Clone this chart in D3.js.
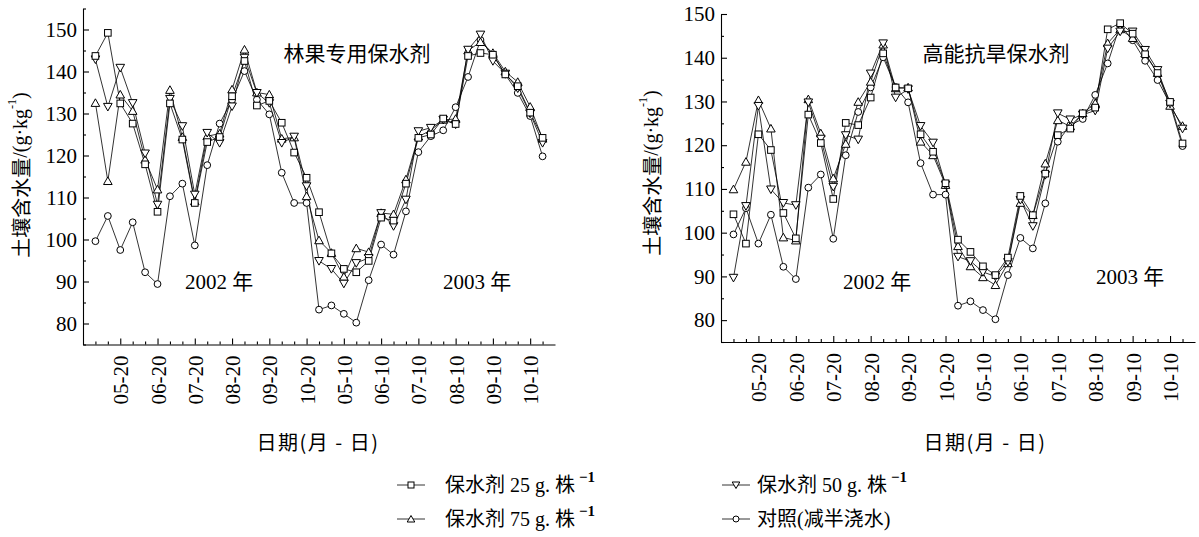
<!DOCTYPE html>
<html>
<head>
<meta charset="utf-8">
<script src="https://cdn.jsdelivr.net/npm/d3@7"></script>
<style>
  body { margin: 0; background: #fff; }
  svg text { fill: #000; }
</style>
</head>
<body>
<svg id="chart" width="1199" height="537"></svg>
<script>
// ---- data: soil water content (g/kg), sampled every 10 days, 2002 and 2003 seasons ----
const sampleIndex = d3.range(37);
const tickIndex = [2, 5, 8, 11, 14, 17, 20, 23, 26, 29, 32, 35];
const tickLabels = ["05-20", "06-20", "07-20", "08-20", "09-20", "10-20",
                    "05-10", "06-10", "07-10", "08-10", "09-10", "10-10"];
const yMajorTicks = [80, 90, 100, 110, 120, 130, 140, 150];

// control (half irrigation), shared by both panels
const control = [99.6, 105.6, 97.5, 104.1, 92.2, 89.4, 110.3, 113.3, 98.6, 117.7, 127.6, 133.2, 140.1,
                 133.3, 129.8, 115.9, 108.7, 108.7, 83.3, 84.3, 82.3, 80.2, 90.3, 98.8, 96.4, 106.7,
                 120.8, 124.6, 126.0, 131.5, 138.7, 147.5, 144.0, 139.3, 134.9, 129.4, 119.8];

// 林果专用保水剂
const forest25 = [143.7, 149.2, 132.4, 127.6, 117.9, 106.6, 132.4, 123.8, 108.7, 123.2, 124.4, 134.1, 142.5,
                  131.9, 133.0, 127.8, 120.7, 114.7, 106.5, 96.7, 93.0, 92.2, 94.9, 105.2, 104.5, 113.3,
                  124.2, 125.0, 128.8, 127.5, 143.7, 144.4, 144.0, 139.3, 136.5, 130.2, 124.2];
const forest50 = [142.9, 131.6, 140.9, 132.5, 120.5, 108.3, 133.5, 127.0, 110.7, 125.4, 123.0, 131.7, 143.3,
                  134.9, 132.5, 123.0, 124.5, 112.7, 94.9, 93.0, 89.5, 94.4, 95.6, 106.3, 103.2, 109.5,
                  125.8, 126.6, 128.5, 127.4, 145.2, 148.8, 142.5, 139.5, 136.0, 130.0, 123.0];
const forest75 = [132.5, 113.9, 134.5, 130.6, 119.0, 111.9, 135.6, 124.4, 109.1, 124.6, 125.2, 135.7, 145.2,
                  135.0, 134.5, 124.0, 124.3, 110.3, 99.8, 96.8, 91.1, 97.9, 97.0, 106.3, 106.0, 114.3,
                  124.5, 126.0, 128.5, 128.7, 145.0, 147.0, 144.4, 140.0, 137.5, 131.6, 124.0];

// 高能抗旱保水剂
const drought25 = [104.2, 97.5, 122.5, 118.9, 104.5, 98.7, 127.0, 120.5, 107.7, 125.1, 124.6, 130.9, 141.0,
                   133.2, 133.0, 122.5, 118.5, 111.3, 98.4, 95.6, 92.3, 90.3, 94.3, 108.4, 104.0, 113.5,
                   122.3, 123.8, 127.3, 128.6, 146.5, 147.9, 145.5, 140.8, 136.5, 129.9, 120.4];
const drought50 = [89.7, 106.1, 129.0, 109.9, 106.8, 106.3, 129.8, 121.5, 110.5, 122.3, 121.3, 136.4, 143.3,
                   130.9, 132.8, 124.4, 120.6, 111.0, 94.5, 93.5, 91.0, 90.0, 93.3, 107.5, 101.5, 113.2,
                   127.3, 125.9, 127.0, 127.9, 142.1, 146.0, 146.0, 141.8, 137.2, 129.5, 123.8];
const drought75 = [109.9, 116.2, 130.3, 123.8, 98.9, 98.2, 130.5, 122.7, 112.4, 120.3, 129.9, 134.5, 143.0,
                   133.0, 133.2, 120.8, 117.7, 110.9, 96.9, 92.3, 89.8, 88.0, 93.0, 106.8, 104.0, 115.8,
                   125.7, 124.3, 127.3, 129.6, 143.3, 146.5, 144.5, 141.0, 136.5, 129.0, 124.4];

const legendLabels = ["保水剂 25 g. 株", "保水剂 50 g. 株", "保水剂 75 g. 株", "对照(减半浇水)"];
const legendSymbols = ["square", "down", "up", "circle"];

// ---- drawing ----
const svg = d3.select("#chart");
const serif = "'Liberation Serif', 'Times New Roman', 'Noto Sans CJK SC', serif";
const cjk = "'Noto Sans CJK SC', 'Liberation Serif', sans-serif";

function drawMarker(g, kind, cx, cy) {
  const common = sel => sel.attr("fill", "#fff").attr("stroke", "#000").attr("stroke-width", 1);
  if (kind === "square") {
    g.append("rect").attr("x", cx - 3.3).attr("y", cy - 3.3).attr("width", 6.6).attr("height", 6.6).call(common);
  } else if (kind === "circle") {
    g.append("circle").attr("cx", cx).attr("cy", cy).attr("r", 3.4).call(common);
  } else if (kind === "up") {
    g.append("path").attr("d", `M${cx},${cy - 4.2}L${cx + 4.3},${cy + 3.4}L${cx - 4.3},${cy + 3.4}Z`).call(common);
  } else {
    g.append("path").attr("d", `M${cx},${cy + 4.2}L${cx + 4.3},${cy - 3.4}L${cx - 4.3},${cy - 3.4}Z`).call(common);
  }
}

function drawPanel(cfg) {
  const g = svg.append("g");
  const x = d3.scaleLinear().domain([-1, 37]).range([cfg.x0, cfg.x1]);
  const y = d3.scaleLinear().domain(cfg.yDomain).range(cfg.yRange);
  const yBase = y(cfg.yDomain[0]);

  // y axis: major ticks with labels, minor ticks at 5
  const yAxis = g.append("g").attr("transform", `translate(${cfg.x0},0)`)
    .call(d3.axisLeft(y).tickValues(yMajorTicks).tickSize(-6).tickSizeOuter(0).tickPadding(6)
      .tickFormat(d3.format("d")));
  yAxis.selectAll("text").attr("font-family", serif).attr("font-size", 21);
  const yMinor = d3.range(cfg.yDomain[0], cfg.yDomain[1] + 0.1, 5).filter(v => v % 10 !== 0);
  g.append("g").attr("transform", `translate(${cfg.x0},0)`)
    .call(d3.axisLeft(y).tickValues(yMinor).tickSize(-3).tickSizeOuter(0).tickFormat(""))
    .select(".domain").remove();

  // x axis: labelled ticks every 30 days, small ticks at every sample
  const xAxis = g.append("g").attr("transform", `translate(0,${yBase})`)
    .call(d3.axisBottom(x).tickValues(tickIndex).tickSize(-6).tickSizeOuter(0)
      .tickFormat((d, i) => tickLabels[i]));
  xAxis.selectAll("text")
    .attr("font-family", serif).attr("font-size", 21)
    .attr("transform", "rotate(-90)")
    .attr("x", -11).attr("y", 0).attr("dy", "0.36em")
    .style("text-anchor", "end");
  g.append("g").attr("transform", `translate(0,${yBase})`)
    .call(d3.axisBottom(x).tickValues(sampleIndex.filter(i => !tickIndex.includes(i))).tickSize(-3)
      .tickSizeOuter(0).tickFormat(""))
    .select(".domain").remove();
  g.selectAll(".domain, .tick line").attr("stroke", "#000").attr("stroke-width", 1.1);

  // series lines
  const line = d3.line().x((d, i) => x(i)).y(d => y(d));
  const series = [
    { values: control, kind: "circle" },
    { values: cfg.s75, kind: "up" },
    { values: cfg.s50, kind: "down" },
    { values: cfg.s25, kind: "square" }
  ];
  series.forEach(s => {
    g.append("path").datum(s.values).attr("d", line)
      .attr("fill", "none").attr("stroke", "#000").attr("stroke-width", 0.8);
  });
  series.forEach(s => {
    const mg = g.append("g");
    s.values.forEach((v, i) => drawMarker(mg, s.kind, x(i), y(v)));
  });

  // titles and year labels
  g.append("text").attr("x", cfg.titleX).attr("y", cfg.titleY).attr("text-anchor", "middle")
    .attr("dominant-baseline", "central").attr("font-family", cjk).attr("font-size", 21).text(cfg.title);
  cfg.years.forEach(yr => {
    g.append("text").attr("x", yr.x).attr("y", yr.y).attr("dominant-baseline", "central")
      .attr("font-family", serif).attr("font-size", 21).text(yr.text);
  });

  // axis titles
  const yl = g.append("text").attr("transform", `translate(${cfg.yTitleX},${cfg.yTitleY}) rotate(-90)`)
    .attr("text-anchor", "middle").attr("dominant-baseline", "central")
    .attr("font-family", serif).attr("font-size", 20);
  yl.append("tspan").attr("font-family", cjk).text("土壤含水量");
  yl.append("tspan").text("/(g·kg");
  yl.append("tspan").attr("font-size", 12).attr("dy", -8).text("-1");
  yl.append("tspan").attr("dy", 8).text(")");

  g.append("text").attr("x", cfg.xTitleX).attr("y", 441).attr("text-anchor", "middle")
    .attr("dominant-baseline", "central").attr("font-family", cjk).attr("font-size", 20)
    .attr("letter-spacing", 1.5).text("日期(月 - 日)");
}

drawPanel({
  x0: 83, x1: 555, yDomain: [75, 155], yRange: [344.5, 8.5],
  s25: forest25, s50: forest50, s75: forest75,
  title: "林果专用保水剂", titleX: 357, titleY: 52,
  years: [{ text: "2002 年", x: 185, y: 282 }, { text: "2003 年", x: 443, y: 282 }],
  yTitleX: 20, yTitleY: 175, xTitleX: 318
});
drawPanel({
  x0: 721, x1: 1195, yDomain: [75, 150], yRange: [342, 14],
  s25: drought25, s50: drought50, s75: drought75,
  title: "高能抗旱保水剂", titleX: 996, titleY: 52,
  years: [{ text: "2002 年", x: 843, y: 282 }, { text: "2003 年", x: 1096, y: 277 }],
  yTitleX: 651, yTitleY: 173, xTitleX: 985
});

// ---- legend ----
const legendPos = [
  { lx: 397, tx: 445, y: 485 }, { lx: 722, tx: 757, y: 485 },
  { lx: 397, tx: 445, y: 519 }, { lx: 722, tx: 757, y: 519 }
];
const lg = svg.append("g");
legendLabels.forEach((label, i) => {
  const p = legendPos[i];
  lg.append("line").attr("x1", p.lx).attr("x2", p.lx + 28).attr("y1", p.y).attr("y2", p.y)
    .attr("stroke", "#000").attr("stroke-width", 0.8);
  const mg = lg.append("g");
  if (legendSymbols[i] === "square") {
    mg.append("rect").attr("x", p.lx + 11).attr("y", p.y - 3).attr("width", 6).attr("height", 6)
      .attr("fill", "#fff").attr("stroke", "#000");
  } else if (legendSymbols[i] === "circle") {
    mg.append("circle").attr("cx", p.lx + 14).attr("cy", p.y).attr("r", 3)
      .attr("fill", "#fff").attr("stroke", "#000");
  } else if (legendSymbols[i] === "up") {
    const cx = p.lx + 14, cy = p.y;
    mg.append("path").attr("d", `M${cx},${cy - 3.5}L${cx + 3.8},${cy + 3}L${cx - 3.8},${cy + 3}Z`)
      .attr("fill", "#fff").attr("stroke", "#000");
  } else {
    const cx = p.lx + 14, cy = p.y;
    mg.append("path").attr("d", `M${cx},${cy + 3.5}L${cx + 3.8},${cy - 3}L${cx - 3.8},${cy - 3}Z`)
      .attr("fill", "#fff").attr("stroke", "#000");
  }
  const t = lg.append("text").attr("x", p.tx).attr("y", p.y).attr("dominant-baseline", "central")
    .attr("font-family", serif).attr("font-size", 20);
  t.append("tspan").text(label);
  if (i !== 3) {
    t.append("tspan").attr("dx", 4).attr("dy", -8).attr("font-size", 15).attr("font-weight", "bold").text("−1");
  }
});
</script>
</body>
</html>
